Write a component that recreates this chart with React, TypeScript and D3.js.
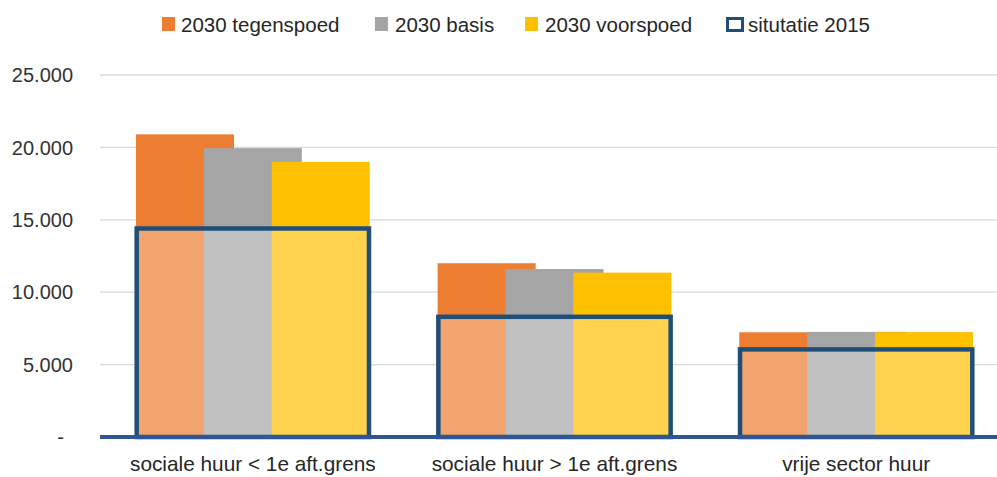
import React from "react";
import * as d3 from "d3";

const categories = ["sociale huur < 1e aft.grens", "sociale huur > 1e aft.grens", "vrije sector huur"];
const tegenspoed2030 = [20900, 12000, 7230];
const basis2030 = [19950, 11600, 7260];
const voorspoed2030 = [19000, 11350, 7240];
const situatie2015 = [14400, 8300, 6050];
const yTicks = [0, 5000, 10000, 15000, 20000, 25000];
const yTickLabels = ["-", "5.000", "10.000", "15.000", "20.000", "25.000"];
const seriesNames = ["2030 tegenspoed", "2030 basis", "2030 voorspoed"];
const legendNames = ["2030 tegenspoed", "2030 basis", "2030 voorspoed", "situtatie 2015"];

const W = 997;
const H = 477;
const colors = ["#ED7D31", "#A5A5A5", "#FFC000"];
const navy = "#1F4E79";
const axisBlue = "#2F5597";
const font = "'Liberation Sans', Arial, sans-serif";

export default function App() {
  const x = d3.scaleBand<string>().domain(categories).range([102, 1007]).padding(0);
  const y = d3.scaleLinear().domain([0, 25000]).range([437, 75]);
  const step = x.bandwidth();
  const barW = step * 0.325;
  const barStep = step * 0.225;
  const boxW = step * 0.77;
  const series = [tegenspoed2030, basis2030, voorspoed2030];

  const legendX = [162, 375, 525, 726];
  const textX = [181, 395, 545, 748];

  return (
    <svg width={W} height={H} style={{ position: "absolute", left: 0, top: 0 }} fontFamily={font}>
      <rect width={W} height={H} fill="#fff" />
      {/* gridlines */}
      {yTicks.slice(1).map((t) => (
        <line key={t} x1={100} x2={W} y1={y(t)} y2={y(t)} stroke="#D9D9D9" strokeWidth={1.3} />
      ))}
      {/* y labels */}
      {yTicks.map((t, i) => (
        <text
          key={t}
          x={t === 0 ? 64 : 73}
          y={y(t)}
          dy="0.36em"
          textAnchor="end"
          fontSize={20}
          fill="#333333"
        >
          {yTickLabels[i]}
        </text>
      ))}
      {/* 2030 bars */}
      {categories.map((c, ci) => {
        const center = (x(c) as number) + step / 2;
        const start = center - (barW + 2 * barStep) / 2;
        return series.map((s, si) => (
          <rect
            key={c + si}
            x={start + si * barStep}
            y={y(s[ci])}
            width={barW}
            height={y(0) - y(s[ci])}
            fill={colors[si]}
          >
            <title>{seriesNames[si]}</title>
          </rect>
        ));
      })}
      {/* 2015 boxes */}
      {categories.map((c, ci) => {
        const center = (x(c) as number) + step / 2;
        return (
          <rect
            key={"b" + c}
            x={center - boxW / 2}
            y={y(situatie2015[ci])}
            width={boxW}
            height={y(0) - y(situatie2015[ci])}
            fill="#fff"
            fillOpacity={0.3}
            stroke={navy}
            strokeWidth={4.5}
          />
        );
      })}
      {/* axis line */}
      <line x1={100} x2={W} y1={y(0)} y2={y(0)} stroke={axisBlue} strokeWidth={4} />
      {/* category labels */}
      {categories.map((c) => (
        <text key={"l" + c} x={(x(c) as number) + step / 2} y={471} textAnchor="middle" fontSize={20.8} fill="#262626">
          {c}
        </text>
      ))}
      {/* legend */}
      {legendNames.map((n, i) => (
        <g key={n}>
          {i < 3 ? (
            <rect x={legendX[i]} y={17} width={13} height={14} fill={colors[i]} />
          ) : (
            <rect x={legendX[i] + 1.5} y={18.5} width={15} height={12} fill="#fff" stroke={navy} strokeWidth={3} />
          )}
          <text x={textX[i]} y={24.5} dy="0.36em" fontSize={20.5} fill="#262626">
            {n}
          </text>
        </g>
      ))}
    </svg>
  );
}
